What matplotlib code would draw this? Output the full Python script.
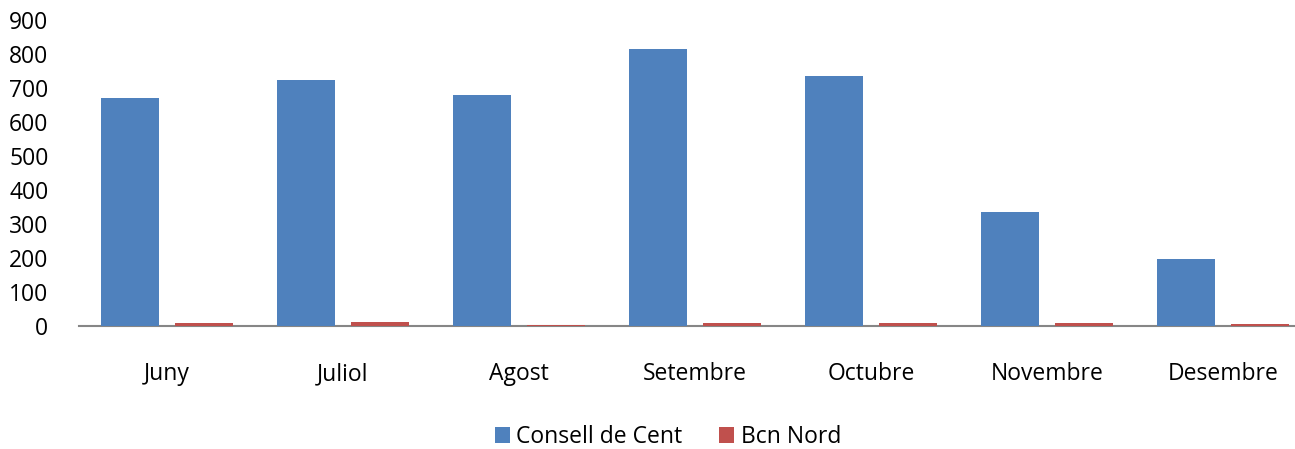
import numpy as np
import matplotlib.pyplot as plt

months = ['Juny', 'Juliol', 'Agost', 'Setembre', 'Octubre', 'Novembre', 'Desembre']
consell_de_cent = [670, 723, 679, 815, 735, 335, 197]
bcn_nord = [8, 11, 3, 8, 8, 10, 5]


def main():
    plt.rcParams['font.family'] = ['Open Sans', 'DejaVu Sans']
    fig = plt.figure(figsize=(12.95, 4.49), dpi=100)
    ax = fig.add_axes([79 / 1295, 123 / 449, 1232 / 1295, 306 / 449])

    x = np.arange(len(months))
    w = 0.33
    ax.bar(x - 0.21, consell_de_cent, w, color='#4F81BD', label='Consell de Cent', zorder=3)
    ax.bar(x + 0.21, bcn_nord, w, color='#C0504D', label='Bcn Nord', zorder=3)

    ax.set_xlim(-0.5, len(months) - 0.5)
    ax.set_ylim(0, 900)
    ax.set_yticks(range(0, 901, 100))
    ax.set_xticks(x)
    ax.set_xticklabels(months)
    ax.tick_params(axis='both', length=0, labelsize=16.5)
    ax.tick_params(axis='x', pad=26)
    ax.tick_params(axis='y', pad=22)
    for s in ['top', 'right', 'left']:
        ax.spines[s].set_visible(False)
    ax.spines['bottom'].set_color('#868686')
    ax.spines['bottom'].set_linewidth(1.5)

    fig.legend(loc='center', bbox_to_anchor=(668 / 1295, 1 - 437 / 449), ncol=2,
               frameon=False, fontsize=16.5, handlelength=0.65, handleheight=0.65,
               handletextpad=0.3, columnspacing=1.6)

    fig.savefig('out.png', dpi=100)


if __name__ == '__main__':
    main()
